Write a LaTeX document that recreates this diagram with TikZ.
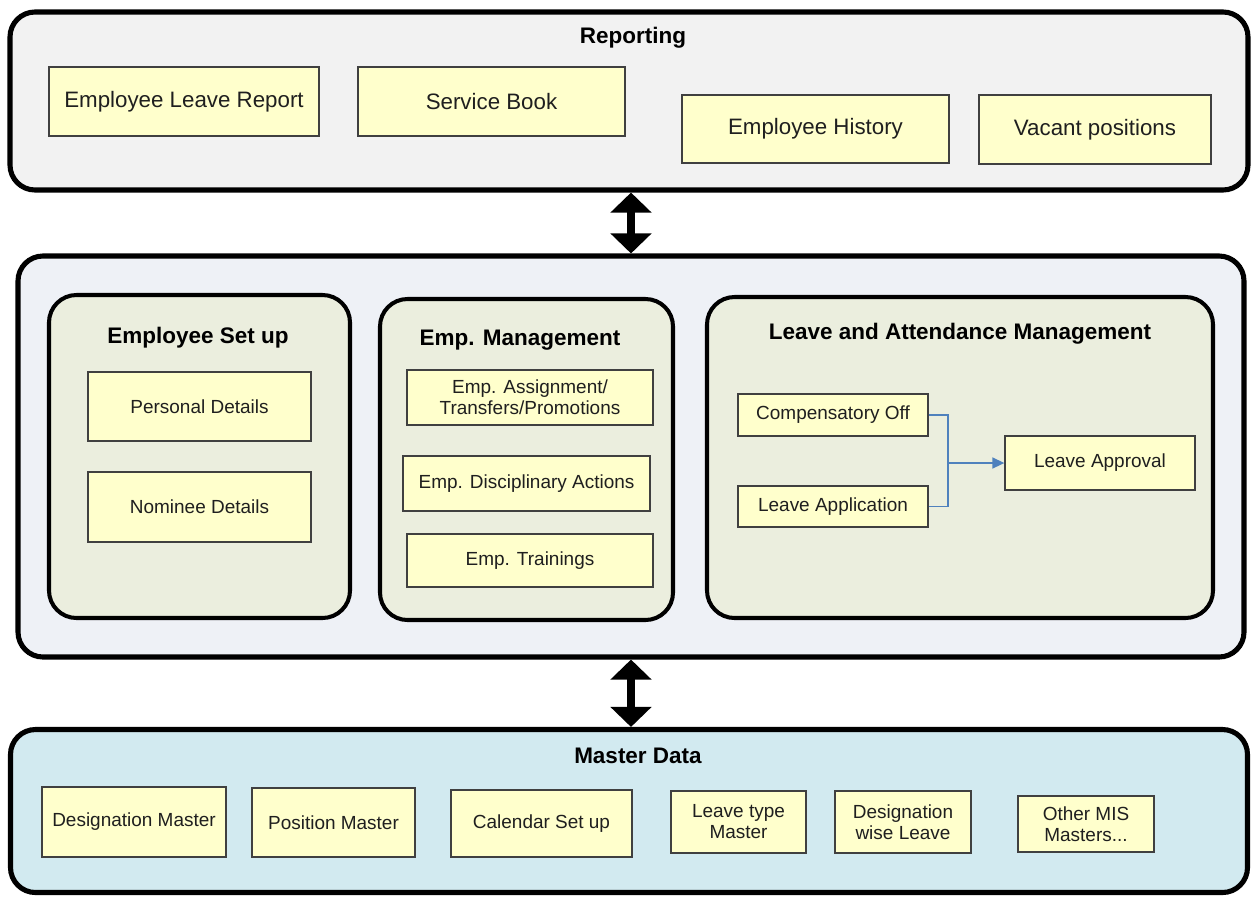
\documentclass[tikz,border=0pt]{standalone}
\usepackage{fontspec}
\setmainfont{Liberation Sans}
\usetikzlibrary{positioning}
\usetikzlibrary{arrows.meta}
\definecolor{reportgrey}{HTML}{F2F2F2}
\definecolor{coregrey}{HTML}{EEF1F6}
\definecolor{groupgreen}{HTML}{EBEEDE}
\definecolor{masterblue}{HTML}{D2EAF0}
\definecolor{itemyellow}{HTML}{FFFFCC}
\definecolor{itemline}{HTML}{404040}
\definecolor{flowblue}{HTML}{4F81BD}
\tikzset{
  boxsize/.style 2 args={minimum width=#1*0.02cm, minimum height=#2*0.02cm},
  panel/.style={draw=black, line width=2.9pt, rounded corners=0.5cm, inner sep=0pt},
  group/.style={draw=black, line width=2.3pt, rounded corners=0.55cm, fill=groupgreen, inner sep=0pt},
  item/.style={draw=itemline, line width=0.75pt, fill=itemyellow, inner sep=0pt, align=center,
    text=black!88, font=\fontsize{10.8}{12}\selectfont},
  bigitem/.style={item, font=\fontsize{12.7}{15}\selectfont},
  heading/.style={inner sep=0pt, font=\fontsize{12.8}{15}\selectfont\bfseries},
  bigarrow/.style={line width=5pt, {Triangle[width=0.8cm,length=0.4cm]}-{Triangle[width=0.8cm,length=0.4cm]}},
  flow/.style={draw=flowblue, line width=0.9pt},
}

\begin{document}
\begin{tikzpicture}[x=0.02cm, y=-0.02cm]
  \useasboundingbox (0,0) rectangle (1251,897);

  % reporting layer
  \node[panel, fill=reportgrey, boxsize={1238}{178}] (reporting) at (629,101) {};
  \node[heading] (reporttitle) at (633,38) {Reporting};
  \foreach \n/\cx/\cy/\w/\h/\t in {leavereport/184/101.5/270/69/{Employee Leave Report},
      servicebook/491.5/101.5/267/69/{Service Book},
      history/815.5/129/267/68/{Employee History},
      vacant/1095/129.5/232/69/{Vacant positions}} {
    \node[bigitem, boxsize={\w}{\h}] (\n) at (\cx,\cy) {\t};
  }

  % core layer
  \node[panel, fill=coregrey, boxsize={1226}{401}] (core) at (631,456.5) {};

  \node[group, boxsize={301}{323}] (setup) at (199.5,456.5) {};
  \node[heading] (setuptitle) at (198,338) {Employee Set up};
  \node[item, boxsize={223}{69}] (personal) at (199.5,406.5) {Personal Details};
  \node[item, boxsize={223}{70}] (nominee) at (199.5,507) {Nominee Details};

  \node[group, boxsize={293}{321}] (mgmt) at (526.5,459.5) {};
  \node[heading] (mgmttitle) at (520,340) {Emp. Management};
  \node[item, boxsize={246}{55}] (assign) at (530,397.5) {Emp. Assignment/\\Transfers/Promotions};
  \node[item, boxsize={247}{55}] (discipline) at (526.5,483.5) {Emp. Disciplinary Actions};
  \node[item, boxsize={246}{53}] (training) at (530,560.5) {Emp. Trainings};

  \node[group, boxsize={506}{321}] (attend) at (960,457.5) {};
  \node[heading] (attendtitle) at (960,334) {Leave and Attendance Management};
  \node[item, boxsize={190}{42}] (compoff) at (833,415) {Compensatory Off};
  \node[item, boxsize={190}{41}] (leaveapp) at (833,506.5) {Leave Application};
  \node[item, boxsize={190}{54}] (approval) at (1100,463) {Leave Approval};

  \coordinate (merge) at (948,463);
  \draw[flow] (compoff.east) -| (merge);
  \draw[flow] (leaveapp.east) -| (merge);
  \draw[flow, -{Triangle[width=0.22cm,length=0.24cm]}] (merge) -- (approval.west);

  % master data layer
  \node[panel, fill=masterblue, boxsize={1237}{163}] (master) at (629,811) {};
  \node[heading] (mastertitle) at (638,756) {Master Data};
  \foreach \n/\cx/\cy/\w/\h/\t in {desig/134/822/184/70/{Designation Master},
      position/333.5/822.5/163/69/{Position Master},
      calendar/541.5/823.5/181/67/{Calendar Set up},
      leavetype/738.5/822/135/62/{Leave type\\Master},
      desigleave/903/822/136/62/{Designation\\wise Leave},
      othermis/1086/824/136/56/{Other MIS\\Masters...}} {
    \node[item, boxsize={\w}{\h}] (\n) at (\cx,\cy) {\t};
  }

  \draw[bigarrow] (core.north |- reporting.south) -- (core.north);
  \draw[bigarrow] (core.south) -- (core.south |- master.north);
\end{tikzpicture}
\end{document}
